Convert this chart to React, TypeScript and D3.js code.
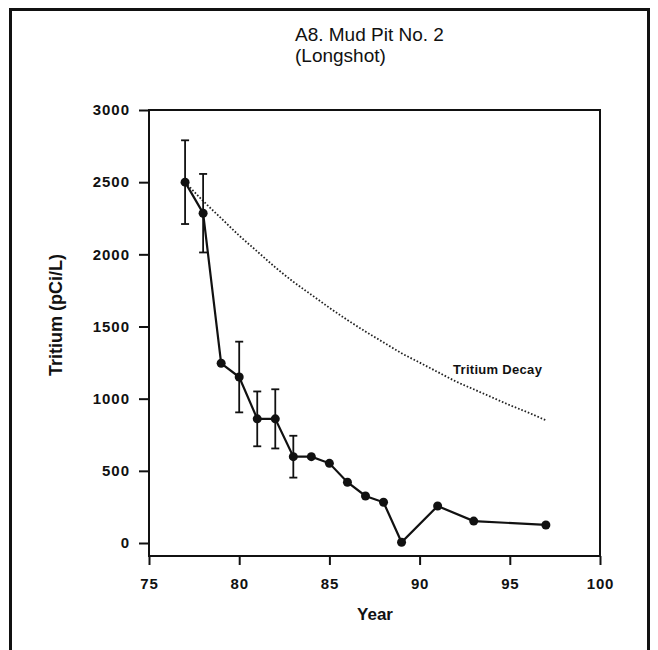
import { useEffect, useRef } from 'react';
import * as d3 from 'd3';

// measured tritium (pCi/L) by year
const years = [77, 78, 79, 80, 81, 82, 83, 84, 85, 86, 87, 88, 89, 91, 93, 97];
const tritium = [2500, 2285, 1245, 1150, 860, 860, 598, 598, 552, 421, 326, 282, 5, 256, 152, 125];
// error bar half-widths (0 = no bar)
const errors = [290, 272, 0, 245, 190, 205, 145, 0, 0, 0, 0, 0, 0, 0, 0, 0];

// dotted decay reference curve
const decayYears = [77, 78, 79, 80, 81, 82, 83, 84, 85, 86, 87, 88, 89, 90, 91, 92, 93, 94, 95, 96, 97];
const decayValues = [2500, 2370, 2250, 2130, 2020, 1910, 1810, 1720, 1630, 1545, 1465, 1390, 1315, 1250, 1185, 1120, 1065, 1010, 955, 905, 850];

const xTicks = [75, 80, 85, 90, 95, 100];
const yTicks = [0, 500, 1000, 1500, 2000, 2500, 3000];

const FONT = '"Liberation Sans", Arial, sans-serif';

export default function App() {
  const svgRef = useRef<SVGSVGElement>(null);
  const width = 658;
  const height = 650;

  useEffect(() => {
    if (!svgRef.current) return;
    const svg = d3.select(svgRef.current);
    svg.selectAll('*').remove();

    svg.append('rect').attr('width', width).attr('height', height).attr('fill', '#fff');

    // page border
    svg.append('rect')
      .attr('x', 10.5).attr('y', 9.5).attr('width', 638).attr('height', 660)
      .attr('fill', 'none').attr('stroke', '#111').attr('stroke-width', 3);

    const left = 149, right = 600, top = 110, bottom = 556;

    const x = d3.scaleLinear().domain([75, 100]).range([left, right]);
    const y = d3.scaleLinear().domain([0, 3000]).range([543, top]);

    // title
    const title = svg.append('text')
      .attr('x', 295).attr('y', 41)
      .style('font-family', FONT).style('font-size', '19px').style('fill', '#111');
    title.append('tspan').attr('x', 295).attr('dy', 0).text('A8. Mud Pit No. 2');
    title.append('tspan').attr('x', 295).attr('dy', 21).text('(Longshot)');

    // frame
    svg.append('rect')
      .attr('x', left).attr('y', top).attr('width', right - left).attr('height', bottom - top)
      .attr('fill', 'none').attr('stroke', '#111').attr('stroke-width', 2);

    // x axis
    const xAxis = svg.append('g').attr('transform', `translate(0,${bottom})`);
    xAxis.call(d3.axisBottom(x).tickValues(xTicks).tickSize(9).tickPadding(13).tickFormat(d3.format('d')));
    xAxis.select('.domain').remove();
    xAxis.selectAll('line').attr('stroke', '#111').attr('stroke-width', 2);
    xAxis.selectAll('text')
      .style('font-family', FONT).style('font-size', '15px').style('font-weight', 'bold')
      .style('letter-spacing', '0.8px').style('fill', '#111');

    // y axis
    const yAxis = svg.append('g').attr('transform', `translate(${left},0)`);
    yAxis.call(d3.axisLeft(y).tickValues(yTicks).tickSize(10).tickPadding(9).tickFormat(d3.format('d')));
    yAxis.select('.domain').remove();
    yAxis.selectAll('line').attr('stroke', '#111').attr('stroke-width', 2);
    yAxis.selectAll('text')
      .style('font-family', FONT).style('font-size', '15px').style('font-weight', 'bold')
      .style('letter-spacing', '1px').style('fill', '#111');

    // axis labels
    svg.append('text')
      .attr('x', 375).attr('y', 620)
      .attr('text-anchor', 'middle')
      .style('font-family', FONT).style('font-size', '17px').style('font-weight', 'bold').style('fill', '#111')
      .text('Year');

    svg.append('text')
      .attr('transform', `translate(62,315) rotate(-90)`)
      .attr('text-anchor', 'middle')
      .style('font-family', FONT).style('font-size', '18px').style('font-weight', 'bold').style('fill', '#111')
      .text('Tritium (pCi/L)');

    // decay curve
    const decay = decayYears.map((yr, i) => ({ yr, v: decayValues[i] }));
    svg.append('path')
      .datum(decay)
      .attr('fill', 'none')
      .attr('stroke', '#222')
      .attr('stroke-width', 1.8)
      .attr('stroke-dasharray', '1.6 1.9')
      .attr('d', d3.line<{ yr: number; v: number }>()
        .x(d => x(d.yr)).y(d => y(d.v)).curve(d3.curveMonotoneX));

    svg.append('text')
      .attr('x', 453).attr('y', 374)
      .style('font-family', FONT).style('font-size', '13px').style('font-weight', 'bold')
      .style('letter-spacing', '0.3px').style('fill', '#111')
      .text('Tritium Decay');

    const pts = years.map((yr, i) => ({ yr, v: tritium[i], e: errors[i] }));

    // error bars
    const eb = svg.append('g').attr('stroke', '#111').attr('stroke-width', 1.8);
    pts.filter(d => d.e > 0).forEach(d => {
      const cx = x(d.yr);
      eb.append('line').attr('x1', cx).attr('x2', cx).attr('y1', y(d.v + d.e)).attr('y2', y(d.v - d.e));
      eb.append('line').attr('x1', cx - 4).attr('x2', cx + 4).attr('y1', y(d.v + d.e)).attr('y2', y(d.v + d.e));
      eb.append('line').attr('x1', cx - 4).attr('x2', cx + 4).attr('y1', y(d.v - d.e)).attr('y2', y(d.v - d.e));
    });

    // data line
    svg.append('path')
      .datum(pts)
      .attr('fill', 'none')
      .attr('stroke', '#111')
      .attr('stroke-width', 2.2)
      .attr('d', d3.line<{ yr: number; v: number }>().x(d => x(d.yr)).y(d => y(d.v)));

    svg.selectAll('.pt')
      .data(pts)
      .join('circle')
      .attr('class', 'pt')
      .attr('cx', d => x(d.yr))
      .attr('cy', d => y(d.v))
      .attr('r', 4.5)
      .attr('fill', '#111');
  }, []);

  return (
    <svg
      ref={svgRef}
      width={width}
      height={height}
      style={{ position: 'absolute', left: 0, top: 0, display: 'block' }}
    />
  );
}
